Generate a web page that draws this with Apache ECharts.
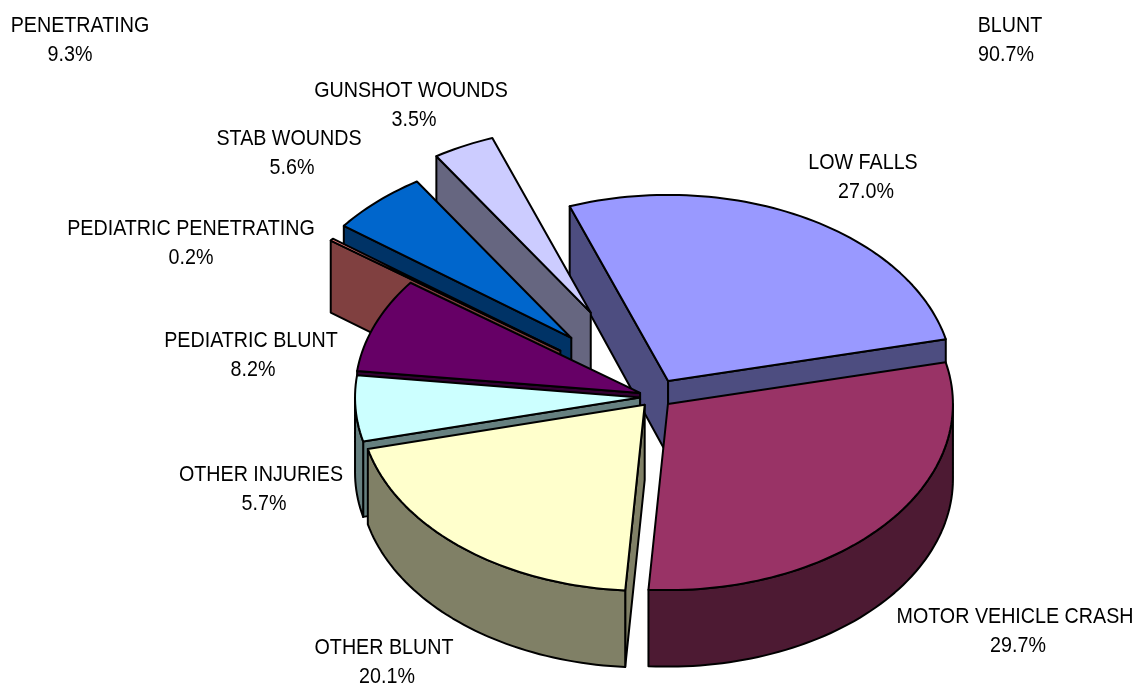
<!DOCTYPE html>
<html>
<head>
<meta charset="utf-8">
<style>html,body{margin:0;padding:0;background:#fff}#c{width:1136px;height:683px}</style>
<script src="https://cdn.jsdelivr.net/npm/echarts@6/dist/echarts.min.js"></script>
</head>
<body>
<div id="c"></div>
<script>
const sliceNames = ['LOW FALLS','MOTOR VEHICLE CRASH','OTHER BLUNT','OTHER INJURIES','PEDIATRIC BLUNT','PEDIATRIC PENETRATING','STAB WOUNDS','GUNSHOT WOUNDS'];
const sliceValues = [27.0,29.7,20.1,5.7,8.2,0.2,5.6,3.5];
const groupNames = ['PENETRATING','BLUNT'];
const groupValues = [9.3,90.7];

// styling and layout, separate from the data
const topColors = ['#9999FF','#993366','#FFFFCC','#CCFFFF','#660066','#FF8080','#0066CC','#CCCCFF'];
const sideColors = ['#4D4D80','#4D1A33','#808066','#668080','#330033','#804040','#003366','#666680'];
const explosion = [27.5,17,16,15,16,118,123,144];
const drawOrder = [0,7,6,5,4,3,2,1];
// [name centre x, value centre x, first line centre y]
const sliceLabelAt = [[863,866,163],[1015,1018,617],[384,387,648],[261,264,475],[251,253,341],[191,191,229],[289,292,139],[411,414,91]];
const groupLabelAt = [[80,70,26],[1010,1006,26]];
const PIE = {cx:655, cy:396.8, rx:285, ratio:0.653, startDeg:-20.2, thick:75, thickBack:5, thickFront:1.5};
const FONT = {family:'"Liberation Sans", Arial, sans-serif', size:22.5, lineGap:28.5, squeeze:0.875};

const total = sliceValues.reduce((a,b)=>a+b,0);
const rad = d => d*Math.PI/180;
const ranges = [];
sliceValues.reduce((a,v)=>{const b=a+v/total*360;ranges.push([a,b]);return b;},PIE.startDeg);

function sliceShapes(i){
  const [a,b] = ranges[i];
  const mid = rad((a+b)/2), ry = PIE.rx*PIE.ratio;
  const ax = PIE.cx + explosion[i]*Math.sin(mid);
  const ay = PIE.cy - explosion[i]*Math.cos(mid)*PIE.ratio;
  const rim = d => [ax+PIE.rx*Math.sin(rad(d)), ay-ry*Math.cos(rad(d))];
  const drop = d => {const c=Math.cos(rad(d));return PIE.thick-(c>0?PIE.thickBack:PIE.thickFront)*c;};
  const low = d => {const p=rim(d);return [p[0],p[1]+drop(d)];};
  const apexLow = [ax, ay+PIE.thick];
  const arc = (s,e,f) => {const n=Math.max(2,Math.ceil(Math.abs(e-s)/1.5));const o=[];for(let k=0;k<=n;k++)o.push(f(s+(e-s)*k/n));return o;};
  const out = [];
  const add = (pts,fill) => out.push({type:'polygon',shape:{points:pts},style:{fill,stroke:'#000',lineWidth:2,lineJoin:'round'}});
  if (Math.sin(rad(a))<0) add([[ax,ay],rim(a),low(a),apexLow],sideColors[i]);
  if (Math.sin(rad(b))>0) add([[ax,ay],rim(b),low(b),apexLow],sideColors[i]);
  // outer wall: only the part of the rim on the viewer's side (90..270 deg)
  for (const off of [0,360,-360]) {
    const s=Math.max(a,90+off), e=Math.min(b,270+off);
    if (e>s) add(arc(s,e,rim).concat(arc(e,s,low)),sideColors[i]);
  }
  add([[ax,ay]].concat(arc(a,b,rim)),topColors[i]);
  return out;
}

const line = (t,x,y) => ({type:'text',x,y,scaleX:FONT.squeeze,scaleY:1,style:{
  text:t,x:0,y:0,fill:'#000',align:'center',verticalAlign:'middle',
  fontFamily:FONT.family,fontSize:FONT.size}});
const labelText = (t,pos,v) => ({type:'group',children:[
  line(t,pos[0],pos[2]),
  line(v.toFixed(1)+'%',pos[1],pos[2]+FONT.lineGap)]});

const chart = echarts.init(document.getElementById('c'),null,{renderer:'canvas'});
chart.setOption({
  animation:false,
  backgroundColor:'#fff',
  series:[
    {type:'custom',coordinateSystem:'none',silent:true,
     data:drawOrder.map(i=>[i]),
     renderItem:(p,api)=>({type:'group',children:sliceShapes(api.value(0))})},
    {type:'custom',coordinateSystem:'none',silent:true,
     data:sliceNames.map((n,i)=>[i]),
     renderItem:(p,api)=>{const i=api.value(0);return labelText(sliceNames[i],sliceLabelAt[i],sliceValues[i]);}},
    {type:'custom',coordinateSystem:'none',silent:true,
     data:groupNames.map((n,i)=>[i]),
     renderItem:(p,api)=>{const i=api.value(0);return labelText(groupNames[i],groupLabelAt[i],groupValues[i]);}}
  ]
});
</script>
</body>
</html>
